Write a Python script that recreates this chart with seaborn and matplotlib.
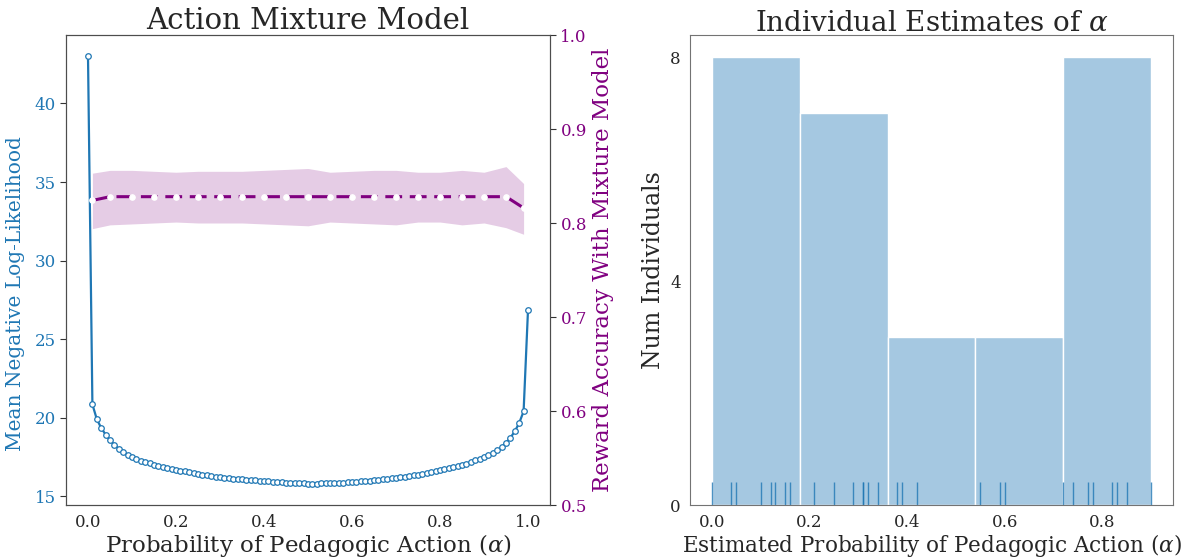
import numpy as np
import matplotlib
matplotlib.use("Agg")
import matplotlib.pyplot as plt
import seaborn as sns

# --- data ---
# mean negative log-likelihood for alpha = 0.00 .. 1.00 (step 0.01)
alpha_grid = [round(i * 0.01, 2) for i in range(101)]
nll = [43.0, 20.85, 19.90, 19.35, 18.92, 18.56, 18.27, 18.02, 17.81, 17.63,
       17.47, 17.36, 17.26, 17.17, 17.09, 17.01, 16.94, 16.87, 16.80, 16.74,
       16.69, 16.63, 16.58, 16.53, 16.47, 16.42, 16.37, 16.32, 16.28, 16.24,
       16.21, 16.18, 16.15, 16.12, 16.10, 16.07, 16.05, 16.03, 16.01, 15.98,
       15.96, 15.94, 15.92, 15.90, 15.89, 15.87, 15.85, 15.84, 15.82, 15.81,
       15.80, 15.80, 15.80, 15.81, 15.82, 15.83, 15.84, 15.85, 15.87, 15.89,
       15.91, 15.93, 15.95, 15.97, 15.99, 16.02, 16.04, 16.07, 16.10, 16.13,
       16.16, 16.20, 16.24, 16.28, 16.32, 16.37, 16.42, 16.47, 16.53, 16.59,
       16.65, 16.72, 16.79, 16.87, 16.94, 17.00, 17.08, 17.18, 17.30, 17.40,
       17.50, 17.62, 17.76, 17.92, 18.12, 18.40, 18.72, 19.13, 19.66, 20.40,
       26.85]

# reward accuracy of the mixture model
acc_alpha = [0.01, 0.05, 0.10, 0.15, 0.20, 0.25, 0.30, 0.35, 0.40, 0.45, 0.50,
             0.55, 0.60, 0.65, 0.70, 0.75, 0.80, 0.85, 0.90, 0.95, 0.99]
acc_mean = [0.824, 0.828, 0.828, 0.828, 0.828, 0.828, 0.828, 0.828, 0.828, 0.828, 0.828,
            0.828, 0.828, 0.828, 0.828, 0.828, 0.828, 0.828, 0.828, 0.828, 0.816]
acc_upper = [0.853, 0.856, 0.856, 0.855, 0.854, 0.855, 0.855, 0.855, 0.856, 0.857, 0.858,
             0.854, 0.855, 0.856, 0.856, 0.854, 0.854, 0.856, 0.854, 0.860, 0.842]
acc_lower = [0.794, 0.798, 0.799, 0.800, 0.801, 0.800, 0.800, 0.800, 0.799, 0.798, 0.797,
             0.801, 0.800, 0.799, 0.798, 0.801, 0.801, 0.798, 0.800, 0.795, 0.788]

# individual estimates of alpha
alpha_est = [0.00, 0.04, 0.05, 0.10, 0.12, 0.13, 0.15, 0.16,
             0.21, 0.25, 0.29, 0.31, 0.31, 0.32, 0.34,
             0.38, 0.39, 0.42,
             0.55, 0.59, 0.60,
             0.72, 0.74, 0.77, 0.78, 0.82, 0.83, 0.85, 0.90]

blue = "#1f77b4"
purple = "purple"

sns.set_style("white")
plt.rcParams["font.family"] = ["DejaVu Serif"]
plt.rcParams["mathtext.fontset"] = "dejavuserif"

fig = plt.figure(figsize=(11.99, 5.6), dpi=100)
ax1 = fig.add_axes([66 / 1199, 55 / 560, 484 / 1199, 470 / 560])
ax3 = fig.add_axes([690 / 1199, 55 / 560, 483 / 1199, 470 / 560])

# left panel: negative log-likelihood
sns.lineplot(x=alpha_grid, y=nll, ax=ax1, color=blue, lw=1.6, marker="o",
             markersize=4, markerfacecolor="white", markeredgecolor=blue,
             markeredgewidth=0.9)
ax1.set_yticks([15, 20, 25, 30, 35, 40])
ax1.set_xticks([0.0, 0.2, 0.4, 0.6, 0.8, 1.0])
ax1.tick_params(axis="y", left=True, length=4, colors="0.2", labelcolor=blue, labelsize=12)
ax1.tick_params(axis="x", labelsize=12, labelcolor="0.15", pad=3)
ax1.set_xlabel(r"Probability of Pedagogic Action ($\alpha$)", fontsize=16.5, color="0.15",
               labelpad=1)
ax1.set_ylabel("Mean Negative Log-Likelihood", fontsize=14.5, color=blue)
ax1.yaxis.set_label_coords(-0.085, 0.45)
ax1.set_title("Action Mixture Model", fontsize=21, color="0.15", pad=3)

# twin axis: reward accuracy
ax2 = ax1.twinx()
ax2.fill_between(acc_alpha, acc_lower, acc_upper, color=purple, alpha=0.2, lw=0)
sns.lineplot(x=acc_alpha, y=acc_mean, ax=ax2, color=purple, lw=2.2,
             dashes=False, linestyle=(0, (5.5, 2.5)), marker="o", markersize=4,
             markerfacecolor="white", markeredgecolor="white")
ax2.set_ylim(0.5, 1.0)
ax2.set_yticks([0.5, 0.6, 0.7, 0.8, 0.9, 1.0])
ax2.tick_params(axis="y", right=True, length=4, colors="0.2", labelcolor=purple, labelsize=12)
ax2.set_ylabel("Reward Accuracy With Mixture Model", fontsize=16.5, color=purple)
for sp in list(ax1.spines.values()) + list(ax2.spines.values()):
    sp.set_color("0.3")

# right panel: histogram of individual estimates
sns.histplot(alpha_est, bins=5, ax=ax3, color=blue, alpha=0.4, edgecolor="white",
             linewidth=1)
sns.rugplot(alpha_est, ax=ax3, color=blue, height=0.05, lw=1, alpha=0.8)
ax3.set_ylim(0, 8.4)
ax3.set_yticks([0, 4, 8])
ax3.set_xticks([0.0, 0.2, 0.4, 0.6, 0.8])
ax3.tick_params(labelsize=12, labelcolor="0.15", pad=3)
ax3.set_xlabel(r"Estimated Probability of Pedagogic Action ($\alpha$)", fontsize=15.5,
               color="0.15", labelpad=1)
ax3.set_ylabel("Num Individuals", fontsize=17, color="0.15")
ax3.set_title(r"Individual Estimates of $\alpha$", fontsize=20, color="0.15", pad=3)
for sp in ax3.spines.values():
    sp.set_color("0.45")

fig.savefig("out.png", dpi=100)
